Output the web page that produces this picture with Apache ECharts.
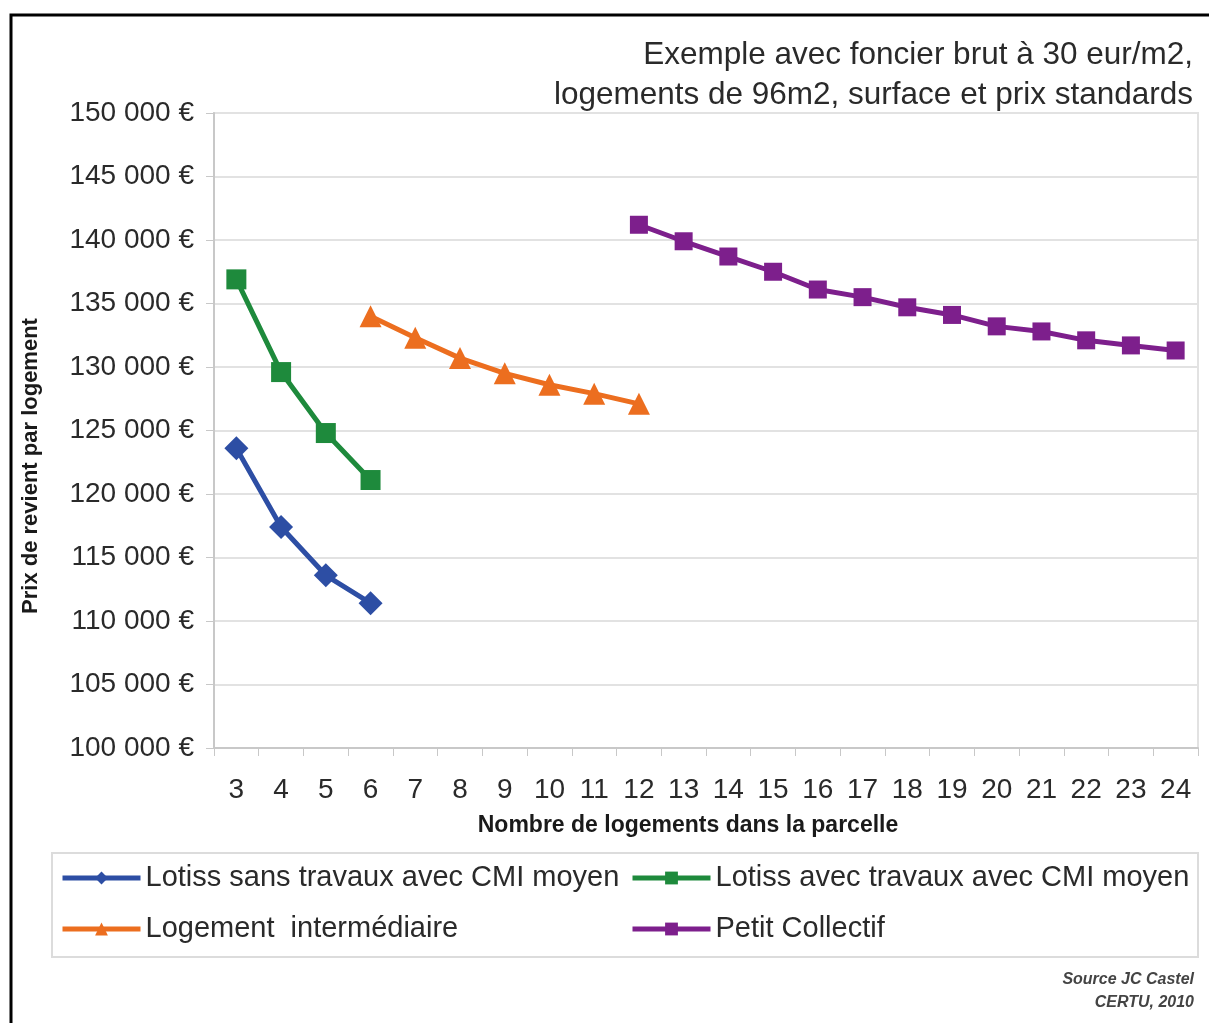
<!DOCTYPE html>
<html>
<head>
<meta charset="utf-8">
<script src="https://cdn.jsdelivr.net/npm/echarts@6/dist/echarts.min.js"></script>
<style>
html,body{margin:0;padding:0;background:#fff;}
#chart{width:1209px;height:1023px;}
</style>
</head>
<body>
<div id="chart"></div>
<script>
const categories = ['3','4','5','6','7','8','9','10','11','12','13','14','15','16','17','18','19','20','21','22','23','24'];
const lotissSans = [123600,117400,113600,111400,null,null,null,null,null,null,null,null,null,null,null,null,null,null,null,null,null,null];
const lotissAvec = [136900,129600,124800,121100,null,null,null,null,null,null,null,null,null,null,null,null,null,null,null,null,null,null];
const intermediaire = [null,null,null,134000,132300,130700,129500,128600,127900,127100,null,null,null,null,null,null,null,null,null,null,null,null];
const petitCollectif = [null,null,null,null,null,null,null,null,null,141200,139900,138700,137500,136100,135500,134700,134100,133200,132800,132100,131700,131300];
const seriesNames = ['Lotiss sans travaux avec CMI moyen','Lotiss avec travaux avec CMI moyen','Logement  intermédiaire','Petit Collectif'];
const titleLines = ['Exemple avec foncier brut à 30 eur/m2,','logements de 96m2, surface et prix standards'];
const sourceLines = ['Source JC Castel','CERTU, 2010'];
const xAxisName = 'Nombre de logements dans la parcelle';
const yAxisName = 'Prix de revient par logement';

const FONT = '"Liberation Sans", Arial, sans-serif';
const chart = echarts.init(document.getElementById('chart'), null, {renderer:'canvas'});

function fmt(v){
  return String(v).replace(/\B(?=(\d{3})+(?!\d))/g, ' ') + ' €';
}

function mkSeries(name, data, color, symbol, size){
  return {
    name: name, type: 'line', data: data, connectNulls: false,
    symbol: symbol, symbolSize: size, showSymbol: true,
    lineStyle: {color: color, width: 5},
    itemStyle: {color: color},
    emphasis: {disabled: true},
    animation: false
  };
}

const legendCommon = {
  orient: 'vertical', top: 862, padding: 0,
  itemWidth: 78, itemHeight: 16, itemGap: 19,
  lineStyle: {width: 5},
  textStyle: {fontSize: 29, color: '#2a2a2a', lineHeight: 32, fontFamily: FONT},
  selectedMode: false
};

const option = {
  backgroundColor: '#fff',
  animation: false,
  textStyle: {fontFamily: FONT},
  grid: {left: 214, right: 11, top: 113, bottom: 275, show: true, borderColor: '#e2e2e2', borderWidth: 2},
  graphic: [
    {type: 'rect', shape: {x: 11, y: 15, width: 1220, height: 1040}, style: {fill: 'none', stroke: '#000', lineWidth: 3}, z: 100},
    {type: 'rect', shape: {x: 52, y: 853, width: 1146, height: 104}, style: {fill: 'none', stroke: '#dcdcdc', lineWidth: 2}, z: 1},
    {type: 'text', x: 1193, y: 55, style: {text: titleLines[0], font: '31.5px ' + FONT, fill: '#2a2a2a', align: 'right', verticalAlign: 'middle'}},
    {type: 'text', x: 1193, y: 95, style: {text: titleLines[1], font: '31.5px ' + FONT, fill: '#2a2a2a', align: 'right', verticalAlign: 'middle'}},
    {type: 'text', x: 688, y: 826, style: {text: xAxisName, font: 'bold 23px ' + FONT, fill: '#1a1a1a', align: 'center', verticalAlign: 'middle'}},
    {type: 'text', x: 31, y: 466, rotation: Math.PI / 2, style: {text: yAxisName, font: 'bold 22px ' + FONT, fill: '#1a1a1a', align: 'center', verticalAlign: 'middle'}},
    {type: 'text', x: 1194, y: 980, style: {text: sourceLines[0], font: 'italic bold 16px ' + FONT, fill: '#444', align: 'right', verticalAlign: 'middle'}},
    {type: 'text', x: 1194, y: 1003, style: {text: sourceLines[1], font: 'italic bold 16px ' + FONT, fill: '#444', align: 'right', verticalAlign: 'middle'}}
  ],
  legend: [
    Object.assign({data: [seriesNames[0], seriesNames[2]], left: 60}, legendCommon),
    Object.assign({data: [seriesNames[1], seriesNames[3]], left: 630}, legendCommon)
  ],
  xAxis: {
    type: 'category', data: categories, boundaryGap: true,
    axisLine: {lineStyle: {color: '#c8c8c8', width: 2}},
    axisTick: {show: true, length: 8, lineStyle: {color: '#c8c8c8'}},
    axisLabel: {fontSize: 28, color: '#2a2a2a', margin: 28, interval: 0, fontFamily: FONT},
    splitLine: {show: false}
  },
  yAxis: {
    type: 'value', min: 100000, max: 150000, interval: 5000,
    axisLine: {show: true, lineStyle: {color: '#c8c8c8', width: 2}},
    axisTick: {show: true, length: 8, lineStyle: {color: '#c8c8c8'}},
    axisLabel: {fontSize: 28, color: '#2a2a2a', margin: 20, formatter: fmt, fontFamily: FONT},
    splitLine: {show: true, lineStyle: {color: '#e2e2e2', width: 2}}
  },
  series: [
    mkSeries(seriesNames[0], lotissSans, '#2d4ea4', 'diamond', 24),
    mkSeries(seriesNames[1], lotissAvec, '#1e8a3c', 'rect', 20),
    mkSeries(seriesNames[2], intermediaire, '#ec6e1f', 'triangle', 22),
    mkSeries(seriesNames[3], petitCollectif, '#7d1f8c', 'rect', 18)
  ]
};
chart.setOption(option);
</script>
</body>
</html>
